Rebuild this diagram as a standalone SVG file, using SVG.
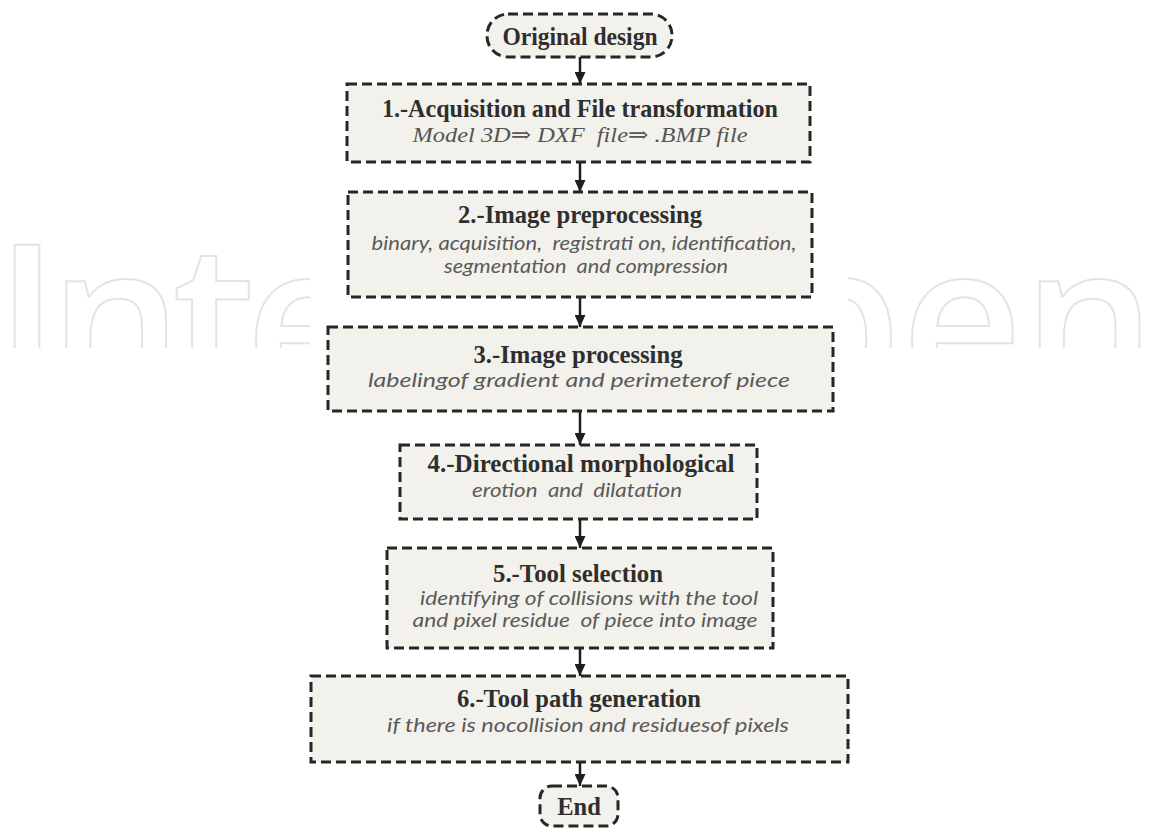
<svg xmlns="http://www.w3.org/2000/svg" width="1151" height="830" viewBox="0 0 1151 830">
  <defs>
    <style>
      .box { fill: #f3f1eb; stroke: #262626; stroke-width: 3; stroke-dasharray: 10 5; }
      .title { font-family: "Liberation Serif", "Times New Roman", serif; font-weight: bold; font-size: 24.5px; fill: #2e2e2e; text-anchor: middle; }
      .sub-serif { font-family: "Liberation Serif", "DejaVu Serif", serif; font-style: italic; font-size: 22px; fill: #555; text-anchor: middle; white-space: pre; }
      .sub { font-family: Lato, "Open Sans", sans-serif; font-style: italic; font-size: 20px; fill: #5a5a5a; text-anchor: middle; white-space: pre; }
      .wire { stroke: #1e1e1e; stroke-width: 2.5; fill: none; marker-end: url(#head); }
      .mark { font-family: "Open Sans", sans-serif; font-weight: 600; font-size: 210px; fill: #fff; stroke: #e4e4e4; stroke-width: 2; }
    </style>
    <marker id="head" viewBox="0 0 12 11" refX="12" refY="5.5" markerWidth="12" markerHeight="11" markerUnits="userSpaceOnUse" orient="auto">
      <path d="M0,0 L12,5.5 L0,11 Z" fill="#1e1e1e"/>
    </marker>
    <clipPath id="sides">
      <rect x="0" y="0" width="310" height="348"/>
      <rect x="848" y="0" width="303" height="348"/>
    </clipPath>
  </defs>

  <rect width="1151" height="830" fill="#fff"/>

  <!-- faint publisher mark, visible only at both sides of the chart -->
  <g id="watermark" clip-path="url(#sides)">
    <text class="mark" x="-5" y="395" letter-spacing="-10">Inte</text>
    <text class="mark" x="1156" y="395" text-anchor="end">pen</text>
  </g>

  <!-- flow connectors -->
  <g id="connectors">
    <line class="wire" x1="580" y1="57" x2="580" y2="84"/>
    <line class="wire" x1="580" y1="162" x2="580" y2="192"/>
    <line class="wire" x1="580" y1="297" x2="580" y2="327"/>
    <line class="wire" x1="580" y1="411" x2="580" y2="445"/>
    <line class="wire" x1="580" y1="519" x2="580" y2="548"/>
    <line class="wire" x1="580" y1="648" x2="580" y2="676"/>
    <line class="wire" x1="580" y1="762" x2="580" y2="786"/>
  </g>

  <g id="start">
    <rect class="box" x="487" y="14" width="185" height="43" rx="21"/>
    <text class="title" x="580" y="45" textLength="155" lengthAdjust="spacingAndGlyphs">Original design</text>
  </g>

  <g id="step1">
    <rect class="box" x="347" y="84" width="463" height="78"/>
    <text class="title" x="580" y="117" textLength="396" lengthAdjust="spacingAndGlyphs">1.-Acquisition and File transformation</text>
    <text class="sub-serif" x="580" y="142" textLength="335" lengthAdjust="spacingAndGlyphs">Model 3D⇒ DXF  file⇒ .BMP file</text>
  </g>

  <g id="step2">
    <rect class="box" x="348" y="192" width="464" height="105"/>
    <text class="title" x="580" y="223" textLength="244" lengthAdjust="spacingAndGlyphs">2.-Image preprocessing</text>
    <text class="sub" x="584" y="250" textLength="425" lengthAdjust="spacingAndGlyphs">binary, acquisition,  registrati on, identification,</text>
    <text class="sub" x="586" y="273" textLength="284" lengthAdjust="spacingAndGlyphs">segmentation  and compression</text>
  </g>

  <g id="step3">
    <rect class="box" x="328" y="327" width="505" height="84"/>
    <text class="title" x="578" y="363" textLength="209" lengthAdjust="spacingAndGlyphs">3.-Image processing</text>
    <text class="sub" x="579" y="387" textLength="422" lengthAdjust="spacingAndGlyphs">labelingof gradient and perimeterof piece</text>
  </g>

  <g id="step4">
    <rect class="box" x="400" y="445" width="357" height="74"/>
    <text class="title" x="581" y="472" textLength="307" lengthAdjust="spacingAndGlyphs">4.-Directional morphological</text>
    <text class="sub" x="577" y="497" textLength="210" lengthAdjust="spacingAndGlyphs">erotion  and  dilatation</text>
  </g>

  <g id="step5">
    <rect class="box" x="387" y="548" width="386" height="100"/>
    <text class="title" x="578" y="582" textLength="170" lengthAdjust="spacingAndGlyphs">5.-Tool selection</text>
    <text class="sub" x="589" y="605" textLength="338" lengthAdjust="spacingAndGlyphs">identifying of collisions with the tool</text>
    <text class="sub" x="585" y="627" textLength="345" lengthAdjust="spacingAndGlyphs">and pixel residue  of piece into image</text>
  </g>

  <g id="step6">
    <rect class="box" x="311" y="676" width="537" height="86"/>
    <text class="title" x="579" y="707" textLength="244" lengthAdjust="spacingAndGlyphs">6.-Tool path generation</text>
    <text class="sub" x="588" y="732" textLength="402" lengthAdjust="spacingAndGlyphs">if there is nocollision and residuesof pixels</text>
  </g>

  <g id="end">
    <rect class="box" x="540" y="786" width="78" height="40" rx="12"/>
    <text class="title" x="579" y="815">End</text>
  </g>
</svg>
